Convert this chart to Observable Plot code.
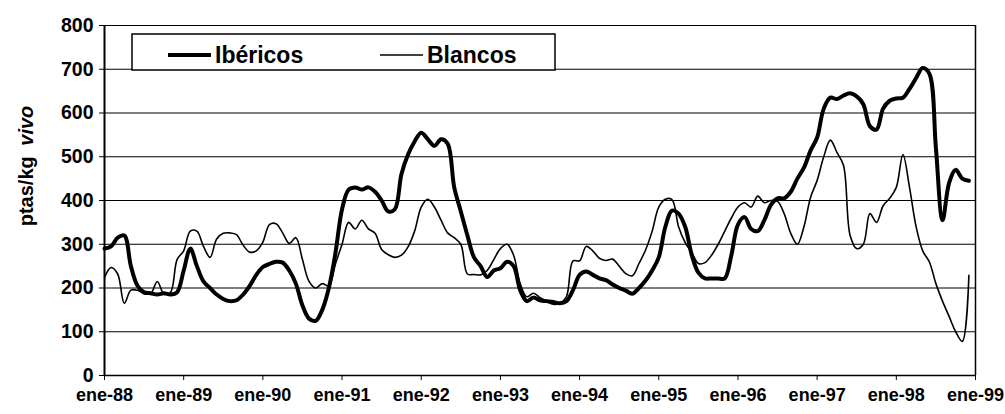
<!DOCTYPE html>
<html>
<head>
<meta charset="utf-8">
<script src="https://cdn.jsdelivr.net/npm/d3@7"></script>
<script src="https://cdn.jsdelivr.net/npm/@observablehq/plot@0.6"></script>
<style>
  html, body { margin: 0; padding: 0; background: #fff; }
  #chart svg { display: block; }
</style>
</head>
<body>
<div id="chart"></div>
<script>
// X-axis tick labels (one per January, 1988..1999)
const xLabels = ["ene-88","ene-89","ene-90","ene-91","ene-92","ene-93","ene-94","ene-95","ene-96","ene-97","ene-98","ene-99"];
const yTicks = [0, 100, 200, 300, 400, 500, 600, 700, 800];
const seriesNames = ["Ibéricos", "Blancos"];

// Monthly prices (ptas/kg vivo), Jan 1988 .. Dec 1998
const ibericos = [
  290, 295, 315, 320, 250, 205, 190, 188, 185, 188, 185, 190,   // 1988
  240, 290, 250, 215, 200, 185, 175, 170, 172, 185, 205, 230,   // 1989
  248, 255, 260, 258, 240, 210, 160, 130, 125, 150, 200, 280,   // 1990
  380, 425, 430, 425, 430, 420, 400, 375, 380, 460, 505, 535,   // 1991
  555, 540, 525, 540, 530, 430, 375, 320, 270, 250, 225, 240,   // 1992
  245, 260, 250, 195, 170, 178, 172, 170, 168, 165, 170, 195,   // 1993
  230, 238, 230, 222, 218, 208, 200, 194, 187, 200, 217, 240,   // 1994
  270, 340, 377, 370, 340, 275, 235, 222, 222, 222, 222, 275,   // 1995
  345, 362, 335, 330, 355, 390, 405, 405, 420, 450, 475, 514,   // 1996
  544, 610, 635, 632, 640, 645, 638, 620, 570, 562, 610, 628,   // 1997
  633, 635, 655, 680, 703, 690, 520, 355, 440, 470, 450, 445    // 1998
];
const blancos = [
  224, 247, 232, 165, 195, 195, 187, 187, 215, 187, 190, 265,   // 1988
  285, 330, 330, 295, 270, 312, 325, 326, 322, 298, 282, 285,   // 1989
  305, 345, 347, 326, 302, 315, 265, 215, 200, 210, 205, 255,   // 1990
  300, 350, 335, 355, 335, 325, 288, 276, 270, 275, 294, 330,   // 1991
  385, 403, 385, 355, 326, 315, 300, 232, 231, 230, 240, 265,   // 1992
  290, 300, 275, 210, 180, 188, 178, 170, 163, 165, 180, 262,   // 1993
  262, 295, 285, 268, 263, 266, 250, 233, 228, 256, 287, 330,   // 1994
  385, 403, 402, 340, 304, 281, 256, 258, 275, 300, 330, 360,   // 1995
  385, 395, 385, 410, 395, 400, 398, 370, 325, 300, 340, 407,   // 1996
  446, 500, 538, 510, 480, 320, 290, 300, 370, 350, 388, 405,   // 1997
  430, 505, 430, 340, 285, 260, 210, 170, 135, 100, 78, 229     // 1998
];

// Long-format table for Plot (month index along a category-like axis)
const data = [];
ibericos.forEach((v, i) => data.push({m: i, v, s: seriesNames[0]}));
blancos.forEach((v, i) => data.push({m: i, v, s: seriesNames[1]}));
const xTickPos = xLabels.map((_, i) => i * 12);

const font = "'Liberation Sans', Arial, Helvetica, sans-serif";

const chart = Plot.plot({
  width: 1005,
  height: 414,
  marginLeft: 104,
  marginRight: 30,
  marginTop: 25,
  marginBottom: 39,
  style: {fontFamily: font, fontSize: "18px", fontWeight: "bold", background: "#fff", color: "#000", overflow: "visible"},
  x: {domain: [0, 132], label: null},
  y: {domain: [0, 800], label: null},
  marks: [
    Plot.gridY(yTicks.slice(1), {stroke: "#000", strokeOpacity: 1, strokeWidth: 1.2}),
    Plot.axisX(xTickPos, {tickFormat: d => xLabels[Math.round(d / 12)], tickSize: 5, tickPadding: 8, fontSize: 18, label: null}),
    Plot.axisY(yTicks, {tickSize: 5, tickPadding: 6, fontSize: 19.5, label: null}),
    Plot.ruleX([0], {stroke: "#000", strokeWidth: 2}),
    Plot.ruleX([132], {stroke: "#000", strokeWidth: 1.5}),
    Plot.ruleY([0], {stroke: "#000", strokeWidth: 1.5}),
    Plot.line(data.filter(d => d.s === seriesNames[1]), {x: "m", y: "v", stroke: "#000", strokeWidth: 1.6, curve: "catmull-rom"}),
    Plot.line(data.filter(d => d.s === seriesNames[0]), {x: "m", y: "v", stroke: "#000", strokeWidth: 4, curve: "catmull-rom"})
  ]
});

const svg = d3.select(chart);

// Y axis title: "ptas/kg vivo" (vivo in italics)
const yt = svg.append("text")
  .attr("transform", "translate(33,166) rotate(-90)")
  .attr("text-anchor", "middle")
  .attr("font-family", font)
  .attr("font-size", 20)
  .attr("font-weight", "bold")
  .attr("fill", "#000");
yt.append("tspan").text("ptas/kg ");
yt.append("tspan").attr("font-style", "italic").attr("dx", 5).text("vivo");

// Legend box inside the plot
const lg = svg.append("g");
lg.append("rect").attr("x", 132).attr("y", 34).attr("width", 423).attr("height", 36)
  .attr("fill", "#fff").attr("stroke", "#000").attr("stroke-width", 1.5);
const items = [
  {name: seriesNames[0], x1: 168, x2: 211, tx: 215, w: 4},
  {name: seriesNames[1], x1: 380, x2: 423, tx: 427, w: 1.6}
];
items.forEach(it => {
  lg.append("line").attr("x1", it.x1).attr("x2", it.x2).attr("y1", 55).attr("y2", 55)
    .attr("stroke", "#000").attr("stroke-width", it.w);
  lg.append("text").attr("x", it.tx).attr("y", 63).attr("text-anchor", "start")
    .attr("font-family", font).attr("font-size", 23).attr("font-weight", "bold")
    .attr("fill", "#000").text(it.name);
});

document.getElementById("chart").appendChild(chart);
</script>
</body>
</html>
